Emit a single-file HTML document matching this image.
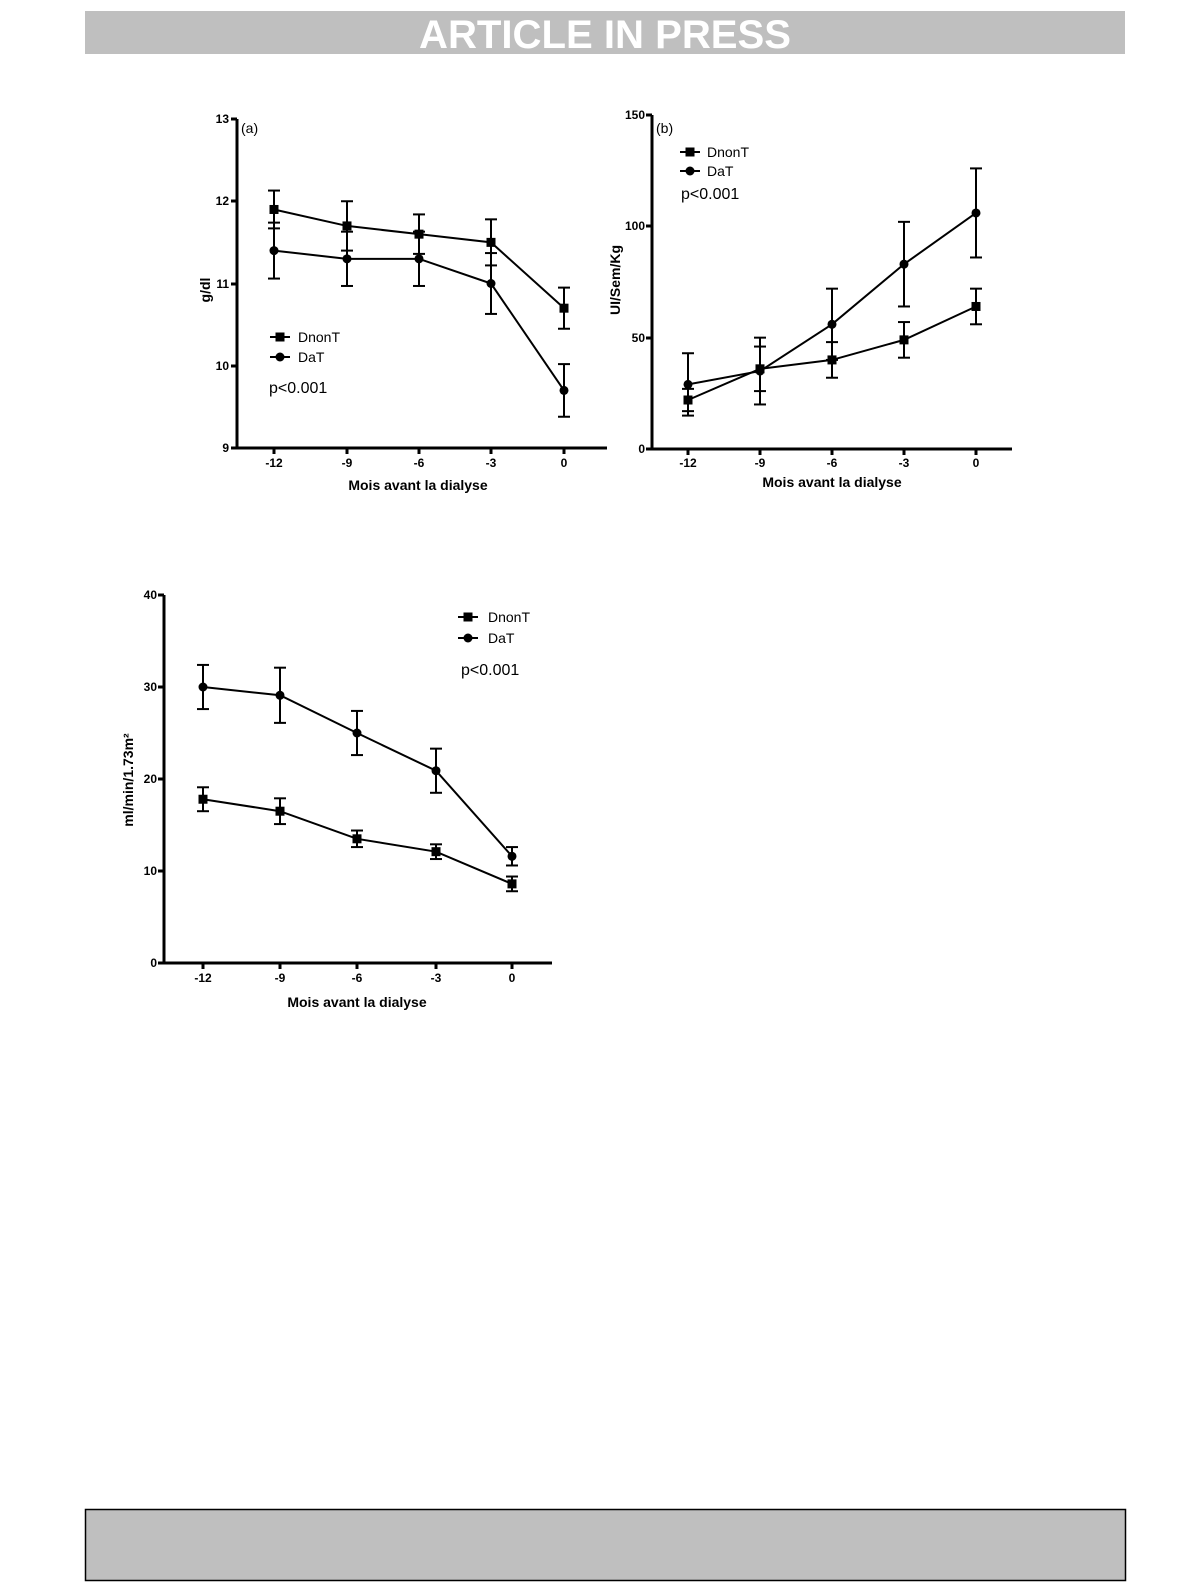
<!DOCTYPE html>
<html><head><meta charset="utf-8"><style>
html,body{margin:0;padding:0;background:#fff;}
svg{display:block;}
text{font-family:"Liberation Sans",Arial,sans-serif;fill:#000;}
.t{font-size:12px;font-weight:bold;}
.xl{font-size:14px;font-weight:bold;}
.lg{font-size:14px;}
.p{font-size:16px;}
</style></head><body>
<svg id="s" width="1191" height="1587" viewBox="0 0 1191 1587" xmlns="http://www.w3.org/2000/svg">
<rect x="0" y="0" width="1191" height="1587" fill="#fff"/>
<rect x="85" y="11" width="1040" height="43" fill="#bfbfbf"/>
<text x="605" y="48" text-anchor="middle" style="font-size:40px;font-weight:bold;fill:#fff;" textLength="372" lengthAdjust="spacingAndGlyphs">ARTICLE IN PRESS</text>
<rect x="85.5" y="1509.5" width="1040" height="71" fill="#bfbfbf" stroke="#000" stroke-width="1.5"/>

<!-- Chart a -->
<g stroke="#000" stroke-width="3" fill="none">
<path d="M237 119 V448 H607"/>
<path d="M231 119 H237 M231 201 H237 M231 284 H237 M231 366 H237 M231 448 H237"/>
<path d="M274 448 v6 M347 448 v6 M419 448 v6 M491 448 v6 M564 448 v6"/>
</g>
<text class="t" x="229" y="123" text-anchor="end">13</text>
<text class="t" x="229" y="205" text-anchor="end">12</text>
<text class="t" x="229" y="288" text-anchor="end">11</text>
<text class="t" x="229" y="370" text-anchor="end">10</text>
<text class="t" x="229" y="452" text-anchor="end">9</text>
<text class="t" x="274" y="467" text-anchor="middle">-12</text>
<text class="t" x="347" y="467" text-anchor="middle">-9</text>
<text class="t" x="419" y="467" text-anchor="middle">-6</text>
<text class="t" x="491" y="467" text-anchor="middle">-3</text>
<text class="t" x="564" y="467" text-anchor="middle">0</text>
<text class="xl" x="418" y="490" text-anchor="middle">Mois avant la dialyse</text>
<text class="xl" transform="translate(210,290) rotate(-90)" text-anchor="middle">g/dl</text>
<text class="lg" x="241" y="133">(a)</text>
<text class="lg" x="298" y="342">DnonT</text>
<text class="lg" x="298" y="362">DaT</text>
<text class="p" x="269" y="393">p&lt;0.001</text>

<!-- Chart b -->
<g stroke="#000" stroke-width="3" fill="none">
<path d="M652 115 V449 H1012"/>
<path d="M646 115 H652 M646 226 H652 M646 338 H652 M646 449 H652"/>
<path d="M688 449 v6 M760 449 v6 M832 449 v6 M904 449 v6 M976 449 v6"/>
</g>
<text class="t" x="645" y="119" text-anchor="end">150</text>
<text class="t" x="645" y="230" text-anchor="end">100</text>
<text class="t" x="645" y="342" text-anchor="end">50</text>
<text class="t" x="645" y="453" text-anchor="end">0</text>
<text class="t" x="688" y="467" text-anchor="middle">-12</text>
<text class="t" x="760" y="467" text-anchor="middle">-9</text>
<text class="t" x="832" y="467" text-anchor="middle">-6</text>
<text class="t" x="904" y="467" text-anchor="middle">-3</text>
<text class="t" x="976" y="467" text-anchor="middle">0</text>
<text class="xl" x="832" y="487" text-anchor="middle">Mois avant la dialyse</text>
<text class="xl" transform="translate(620,280) rotate(-90)" text-anchor="middle">UI/Sem/Kg</text>
<text class="lg" x="656" y="133">(b)</text>
<text class="lg" x="707" y="157">DnonT</text>
<text class="lg" x="707" y="176">DaT</text>
<text class="p" x="681" y="199">p&lt;0.001</text>

<!-- Chart c -->
<g stroke="#000" stroke-width="3" fill="none">
<path d="M164 595 V963 H552"/>
<path d="M158 595 H164 M158 687 H164 M158 779 H164 M158 871 H164 M158 963 H164"/>
<path d="M203 963 v6 M280 963 v6 M357 963 v6 M436 963 v6 M512 963 v6"/>
</g>
<text class="t" x="157" y="599" text-anchor="end">40</text>
<text class="t" x="157" y="691" text-anchor="end">30</text>
<text class="t" x="157" y="783" text-anchor="end">20</text>
<text class="t" x="157" y="875" text-anchor="end">10</text>
<text class="t" x="157" y="967" text-anchor="end">0</text>
<text class="t" x="203" y="982" text-anchor="middle">-12</text>
<text class="t" x="280" y="982" text-anchor="middle">-9</text>
<text class="t" x="357" y="982" text-anchor="middle">-6</text>
<text class="t" x="436" y="982" text-anchor="middle">-3</text>
<text class="t" x="512" y="982" text-anchor="middle">0</text>
<text class="xl" x="357" y="1007" text-anchor="middle">Mois avant la dialyse</text>
<text class="xl" transform="translate(133,780) rotate(-90)" text-anchor="middle">ml/min/1.73m²</text>
<text class="lg" x="488" y="622">DnonT</text>
<text class="lg" x="488" y="643">DaT</text>
<text class="p" x="461" y="675">p&lt;0.001</text>
<g id="d"></g>
</svg>
<script>
var g=document.getElementById('d'),NS='http://www.w3.org/2000/svg';
function el(t,a){var e=document.createElementNS(NS,t);for(var k in a)e.setAttribute(k,a[k]);g.appendChild(e);return e;}
function ln(x1,y1,x2,y2){el('line',{x1:x1,y1:y1,x2:x2,y2:y2,stroke:'#000','stroke-width':2});}
function mk(x,y,sq){if(sq)el('rect',{x:x-4.5,y:y-4.5,width:9,height:9,fill:'#000'});else el('circle',{cx:x,cy:y,r:4.5,fill:'#000'});}
function series(xs,vals,errs,Y,sq){
 for(var i=0;i<xs.length;i++){var y1=Y(vals[i]-errs[i]),y2=Y(vals[i]+errs[i]);ln(xs[i],y1,xs[i],y2);ln(xs[i]-6,y1,xs[i]+6,y1);ln(xs[i]-6,y2,xs[i]+6,y2);}
 var p='';for(i=0;i<xs.length;i++)p+=(i?'L':'M')+xs[i]+' '+Y(vals[i]);
 el('path',{d:p,stroke:'#000','stroke-width':2,fill:'none'});
 for(i=0;i<xs.length;i++)mk(xs[i],Y(vals[i]),sq);
}
var xa=[274,347,419,491,564],Ya=function(v){return 448-(v-9)*82.25;};
series(xa,[11.9,11.7,11.6,11.5,10.7],[0.23,0.3,0.24,0.28,0.25],Ya,true);
series(xa,[11.4,11.3,11.3,11.0,9.7],[0.34,0.33,0.33,0.37,0.32],Ya,false);
var xb=[688,760,832,904,976],Yb=function(v){return 449-v*2.227;};
series(xb,[22,36,40,49,64],[5,10,8,8,8],Yb,true);
series(xb,[29,35,56,83,106],[14,15,16,19,20],Yb,false);
var xc=[203,280,357,436,512],Yc=function(v){return 963-v*9.2;};
series(xc,[17.8,16.5,13.5,12.1,8.6],[1.3,1.4,0.9,0.8,0.8],Yc,true);
series(xc,[30,29.1,25,20.9,11.6],[2.4,3,2.4,2.4,1],Yc,false);
// legends
ln(270,337,290,337);mk(280,337,true);ln(270,357,290,357);mk(280,357,false);
ln(680,152,700,152);mk(690,152,true);ln(680,171,700,171);mk(690,171,false);
ln(458,617,478,617);mk(468,617,true);ln(458,638,478,638);mk(468,638,false);
</script>
</body></html>
